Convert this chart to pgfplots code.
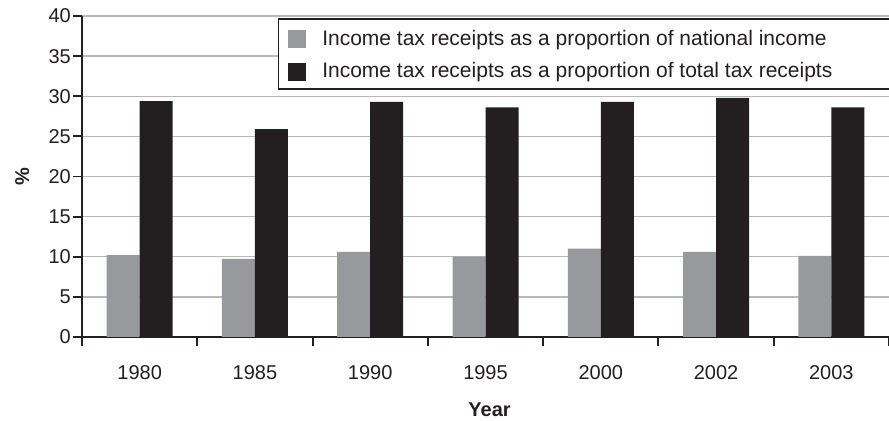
\documentclass[border=0pt]{standalone}
\usepackage{fontspec}
\setmainfont{Liberation Sans}
\usepackage{pgfplots}
\pgfplotsset{compat=1.18}
\definecolor{bargray}{HTML}{98999C}
\definecolor{barblack}{HTML}{231F20}
\definecolor{gridgray}{HTML}{B8B8B8}
\begin{document}
\fontsize{20}{24}\selectfont
\begin{tikzpicture}
\begin{axis}[
  name=ax, scale only axis, width=807pt, height=321pt,
  xmin=-0.5, xmax=6.5, ymin=0, ymax=40,
  ybar=0pt, bar width=33pt,
  /pgf/number format/assume math mode=true,
  axis lines*=left,
  axis line style={line width=2pt, color=barblack},
  tick align=outside,
  tick style={line width=1.8pt, color=barblack},
  major tick length=9pt,
  minor tick length=9pt,
  xtick={0,1,2,3,4,5,6},
  xticklabels={1980,1985,1990,1995,2000,2002,2003},
  major x tick style={draw=none},
  minor xtick={-0.5,0.5,1.5,2.5,3.5,4.5,5.5,6.5},
  minor x tick style={line width=2pt, draw=barblack},
  xticklabel style={anchor=base, yshift=-34pt, font=\fontsize{20}{24}\selectfont, color=barblack},
  ytick={0,5,...,40},
  yticklabel style={inner sep=2pt, font=\fontsize{20}{24}\selectfont, color=barblack},
  ymajorgrids, grid style={gridgray, line width=1.3pt},
  ylabel={\textbf{\%}},
  ylabel style={at={(axis description cs:-0.074,0.5)}, anchor=center, font=\fontsize{20}{24}\selectfont, color=barblack},
  xlabel={\textbf{Year}},
  xlabel style={at={(axis description cs:0.505,-0.227)}, anchor=center, font=\fontsize{20}{24}\selectfont, color=barblack},
  legend style={at={(0.243,0.978)}, anchor=north west, draw=none, fill=none,
    font=\fontsize{21}{25}\selectfont, text=barblack, inner xsep=10pt, inner ysep=5pt,
    row sep=10pt, column sep=14pt, legend cell align=left},
  legend image code/.code={\fill[#1, draw=none] (0pt,-9pt) rectangle (18pt,9pt);},
]
\addplot[fill=bargray, draw=none] coordinates {(0,10.2) (1,9.75) (2,10.6) (3,10.0) (4,11.0) (5,10.6) (6,10.1)};
\addlegendentry{Income tax receipts as a proportion of national income}
\addplot[fill=barblack, draw=none] coordinates {(0,29.4) (1,25.9) (2,29.3) (3,28.6) (4,29.3) (5,29.8) (6,28.6)};
\addlegendentry{Income tax receipts as a proportion of total tax receipts}
\draw[barblack, line width=1.2pt, fill=white] (rel axis cs:0.243,0.9907) rectangle (rel axis cs:1.05,0.7726);
\end{axis}
\pgfresetboundingbox
\path[use as bounding box] ([xshift=-82pt,yshift=-84pt]ax.south west) rectangle ([yshift=16pt]ax.north east);
\end{tikzpicture}
\end{document}
